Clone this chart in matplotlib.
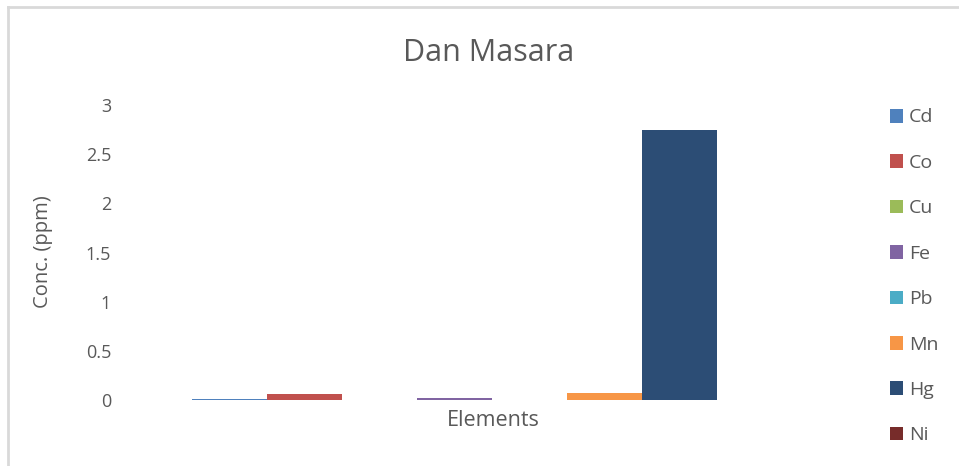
import matplotlib.pyplot as plt
from matplotlib.patches import Patch
from matplotlib.lines import Line2D

# metal concentrations at Dan Masara (ppm)
elements = ["Cd", "Co", "Cu", "Fe", "Pb", "Mn", "Hg", "Ni"]
conc = [0.01, 0.06, 0.0, 0.02, 0.0, 0.07, 2.75, 0.0]
colors = ["#4f81bd", "#c0504d", "#9bbb59", "#8064a2",
          "#4bacc6", "#f79646", "#2c4d75", "#772c2a"]
yticks = [0, 0.5, 1, 1.5, 2, 2.5, 3]
ytick_labels = ["0", "0.5", "1", "1.5", "2", "2.5", "3"]

plt.rcParams['font.family'] = ['Open Sans', 'DejaVu Sans']
grey = "#595959"

fig = plt.figure(figsize=(9.59, 4.66), dpi=100)
ax = fig.add_axes([125/959, 66/466, 735/959, 295/466])

for i, (el, v, c) in enumerate(zip(elements, conc, colors)):
    ax.bar(i, v, width=1.0, color=c, label=el)

ax.set_xlim(-1.4, 8.4)
ax.set_ylim(0, 3)
ax.set_yticks(yticks)
ax.set_yticklabels(ytick_labels, color=grey, fontsize=13)
ax.tick_params(axis='y', length=0, pad=10)
ax.set_xticks([])
for s in ax.spines.values():
    s.set_visible(False)

fig.text(43/959, 1 - 252/466, "Conc. (ppm)", rotation=90, ha='center', va='center', color=grey, fontsize=14.5)
fig.text(493/959, 1 - 421/466, "Elements", ha='center', va='center', color=grey, fontsize=15.5)
fig.text(489/959, 1 - 53/466, "Dan Masara", ha='center', va='center', color=grey, fontsize=22)

handles = [Patch(facecolor=c, edgecolor='none') for c in colors]
leg = fig.legend(handles, elements, loc='upper left', bbox_to_anchor=(872/959, 1 - 91/466),
                 frameon=False, fontsize=14, labelspacing=1.41, handlelength=0.7,
                 handleheight=0.7, handletextpad=0.3)
for t in leg.get_texts():
    t.set_color(grey)

# light frame around the chart area
fig.add_artist(Line2D([8/959, 8/959], [0, 1 - 7/466], transform=fig.transFigure, color="#d9d9d9", lw=2))
fig.add_artist(Line2D([8/959, 1], [1 - 7/466, 1 - 7/466], transform=fig.transFigure, color="#d9d9d9", lw=2))

fig.savefig("out.png", dpi=100)
